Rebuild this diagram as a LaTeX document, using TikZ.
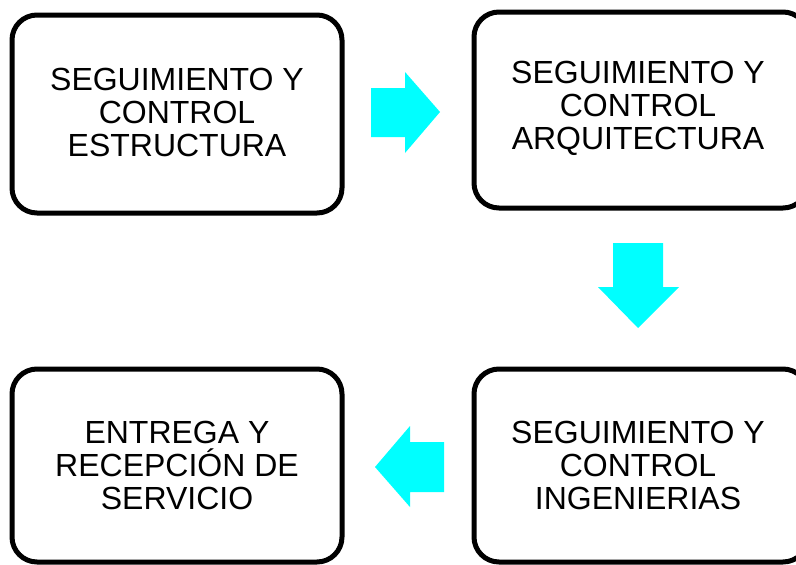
\documentclass[tikz,border=0pt]{standalone}
\usepackage{fontspec}
\setmainfont{Liberation Sans}
\definecolor{arrowcyan}{HTML}{00FFFF}
\tikzset{
  stagebox/.style={draw=black, line width=5pt, rounded corners=25pt, fill=white},
  stagetext/.style={align=center, font=\fontsize{32}{33}\selectfont, inner sep=0pt},
  blockarrow/.style={fill=arrowcyan, draw=none}
}
\begin{document}
\begin{tikzpicture}[x=1pt,y=-1pt]
\useasboundingbox (0,0) rectangle (796,565);
\begin{scope}
\clip (0,0) rectangle (796,565);
\draw[stagebox] (12,15) rectangle (342,213);
\draw[stagebox] (474,12) rectangle (808,208);
\draw[stagebox] (12,369) rectangle (342,562);
\draw[stagebox] (474,369) rectangle (808,562);
\end{scope}
\node[stagetext] (a) at (177,112) {SEGUIMIENTO Y\\CONTROL\\ESTRUCTURA};
\node[stagetext] (b) at (638,108) {SEGUIMIENTO Y\\CONTROL\\ARQUITECTURA};
\node[stagetext] (c) at (638,465) {SEGUIMIENTO Y\\CONTROL\\INGENIERIAS};
\node[stagetext] (d) at (177,465) {ENTREGA Y\\RECEPCIÓN DE\\SERVICIO};
\fill[blockarrow] (371,88) -- (405,88) -- (405,72) -- (440,112) -- (405,153) -- (405,137) -- (371,137) -- cycle;
\fill[blockarrow] (613,243) -- (663,243) -- (663,287) -- (679,287) -- (638,328) -- (598,287) -- (613,287) -- cycle;
\fill[blockarrow] (444,442) -- (410,442) -- (410,426) -- (375,467) -- (410,507) -- (410,492) -- (444,492) -- cycle;
\end{tikzpicture}
\end{document}
